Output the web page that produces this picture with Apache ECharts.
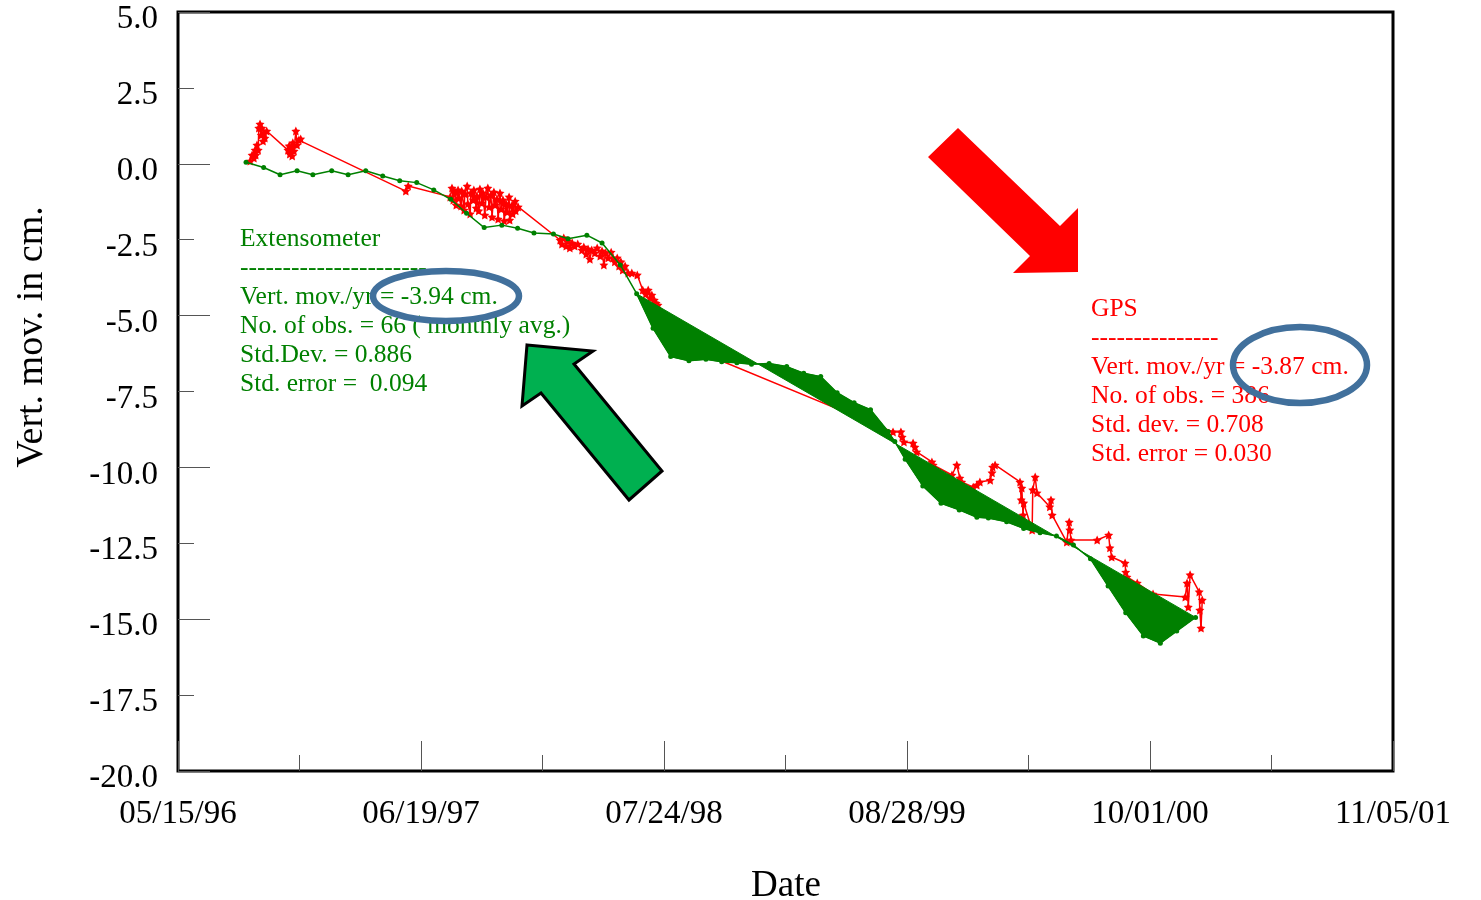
<!DOCTYPE html>
<html>
<head>
<meta charset="utf-8">
<script src="https://cdn.jsdelivr.net/npm/echarts@6/dist/echarts.min.js"></script>
<style>
html,body{margin:0;padding:0;background:#fff;}
#chart{width:1481px;height:900px;}
</style>
</head>
<body>
<div id="chart"></div>
<script>
// x values: days since 05/15/96
var startDate = Date.UTC(1996, 4, 15);
var xTickDays = [0, 400, 800, 1200, 1600, 2000];
var yTicks = [5.0, 2.5, 0.0, -2.5, -5.0, -7.5, -10.0, -12.5, -15.0, -17.5, -20.0];

// Extensometer (monthly averages)
var extDays = [112,141,168,196,222,253,280,309,337,365,393,421,449,475,504,533,559,586,618,642,673,698,728,755,782,811,841,869,895,920,944,973,1002,1030,1058,1085,1113,1140,1169,1180,1197,1226,1256,1286,1315,1334,1364,1392,1419,1446,1474,1502,1531,1560,1589,1617,1644,1675];
var extVert = [0.05,-0.12,-0.36,-0.23,-0.36,-0.23,-0.36,-0.23,-0.40,-0.56,-0.62,-0.86,-1.17,-1.63,-2.10,-2.02,-2.12,-2.28,-2.31,-2.47,-2.35,-2.61,-3.33,-4.28,-5.42,-6.35,-6.49,-6.44,-6.52,-6.55,-6.60,-6.58,-6.68,-6.90,-7.01,-7.54,-7.87,-8.10,-8.82,-9.15,-9.73,-10.61,-11.18,-11.40,-11.64,-11.67,-11.79,-12.01,-12.15,-12.26,-12.56,-13.01,-13.91,-14.79,-15.55,-15.79,-15.39,-14.94];
var extFillStart = 23; // index where the filled extensometer polygon begins

// GPS
var gpsDays = [119,122,125,127,128,130,132,133,135,137,138,140,142,143,146,181,183,184,186,188,189,191,194,196,199,202,375,379,448,
451,453,456,458,461,463,466,467,471,472,476,477,481,482,486,487,491,492,495,497,500,502,505,507,510,512,515,517,520,522,525,527,530,532,535,537,540,542,545,546,550,551,555,556,560,
629,632,635,639,642,645,649,653,658,665,668,672,675,678,681,686,690,695,698,701,704,708,713,716,719,723,726,729,732,736,741,747,756,765,770,774,777,780,784,787,790,
859,
1177,1190,1192,1195,1210,1213,1216,1241,1243,1274,1282,1287,1290,1309,1315,1320,1337,1340,1341,1345,1386,1388,1389,1391,1392,1406,1407,1411,1414,1435,1437,1439,1463,1467,1468,1470,1513,1532,1534,1537,1559,1560,1562,1579,1605,1658,1661,1663,1666,1681,1682,1684,1686];
var gpsVert = [0.09,0.29,0.19,0.45,0.29,0.62,0.45,1.18,1.31,0.95,1.18,0.75,1.01,0.85,1.08,0.45,0.59,0.32,0.52,0.26,0.69,0.42,1.08,0.62,0.78,0.82,-0.90,-0.73,-1.09,
-0.80,-1.19,-0.93,-1.36,-0.86,-1.13,-1.39,-0.90,-1.52,-0.99,-0.73,-1.32,-1.65,-0.96,-1.19,-0.86,-1.46,-1.06,-1.55,-0.83,-1.29,-0.96,-1.69,-1.09,-0.80,-1.42,-1.03,-1.75,-0.93,-1.36,-1.16,-1.82,-0.96,-1.49,-1.19,-1.88,-1.32,-1.59,-1.09,-1.85,-1.36,-1.65,-1.23,-1.55,-1.42,
-2.51,-2.64,-2.44,-2.71,-2.54,-2.77,-2.61,-2.71,-2.64,-2.84,-2.74,-2.97,-2.81,-3.14,-2.84,-2.94,-2.77,-3.04,-2.87,-3.33,-2.94,-3.10,-2.91,-3.10,-3.23,-3.10,-3.37,-3.23,-3.50,-3.37,-3.60,-3.60,-3.66,-4.16,-4.29,-4.16,-4.42,-4.32,-4.49,-4.59,-4.65,
-6.20,
-8.83,-8.83,-9.00,-9.16,-9.20,-9.33,-9.49,-9.82,-9.92,-10.25,-9.92,-10.35,-10.48,-10.65,-10.58,-10.48,-10.42,-10.18,-9.99,-9.92,-10.48,-11.07,-10.68,-11.57,-11.17,-12.06,-10.74,-10.32,-10.84,-11.30,-11.07,-11.57,-12.46,-11.80,-12.06,-12.39,-12.39,-12.23,-12.65,-12.95,-13.15,-13.45,-13.61,-13.81,-14.17,-14.27,-13.81,-14.60,-13.54,-14.10,-14.70,-15.29,-14.37];

var extText = ['Extensometer','----------------------','Vert. mov./yr = -3.94 cm.','No. of obs. = 66 ( monthly avg.)','Std.Dev. = 0.886','Std. error =  0.094'];
var gpsText = ['GPS','---------------','Vert. mov./yr = -3.87 cm.','No. of obs. = 386','Std. dev. = 0.708','Std. error = 0.030'];

function fmtDay(d){
  var t = new Date(startDate + d*86400000);
  function p(n){return (n<10?'0':'')+n;}
  return p(t.getUTCMonth()+1)+'/'+p(t.getUTCDate())+'/'+p(t.getUTCFullYear()%100);
}
function zip(a,b){return a.map(function(v,i){return [v,b[i]];});}

var FONT = 'Liberation Serif';
var star = 'path://M0,-10 L2.9,-4 L9.5,-3.1 L4.8,1.5 L5.9,8.1 L0,5 L-5.9,8.1 L-4.8,1.5 L-9.5,-3.1 L-2.9,-4 Z';

var graphics = [];
extText.forEach(function(s,i){
  graphics.push({type:'text', x:240, y:239+i*29, z:10, style:{text:s, fill:'#008000', font:'25.5px "'+FONT+'"', textVerticalAlign:'middle', verticalAlign:'middle'}});
});
gpsText.forEach(function(s,i){
  graphics.push({type:'text', x:1091, y:309+i*29, z:10, style:{text:s, fill:'#ff0000', font:'25.5px "'+FONT+'"', textVerticalAlign:'middle', verticalAlign:'middle'}});
});
graphics.push({type:'ellipse', z:20, shape:{cx:446, cy:296, rx:73, ry:25}, style:{fill:'none', stroke:'#41709c', lineWidth:6.5}});
graphics.push({type:'ellipse', z:20, shape:{cx:1300, cy:365, rx:67, ry:38}, style:{fill:'none', stroke:'#41709c', lineWidth:6.5}});
graphics.push({type:'polygon', z:15, shape:{points:[[958,128],[1060,226],[1078,208],[1078,272],[1013,273],[1030,256],[928,157]]}, style:{fill:'#ff0000'}});
graphics.push({type:'polygon', z:15, shape:{points:[[527,345],[593,351],[574,364],[662,471],[629,500],[541,393],[522,406]]}, style:{fill:'#00b050', stroke:'#000', lineWidth:3, lineJoin:'miter'}});
graphics.push({type:'text', x:32, y:337, rotation:Math.PI/2, z:10, style:{text:'Vert. mov. in cm.', fill:'#000', font:'38px "'+FONT+'"', textAlign:'center', textVerticalAlign:'middle', align:'center', verticalAlign:'middle'}});
graphics.push({type:'text', x:786, y:886, z:10, style:{text:'Date', fill:'#000', font:'37px "'+FONT+'"', textAlign:'center', textVerticalAlign:'middle', align:'center', verticalAlign:'middle'}});

var chart = echarts.init(document.getElementById('chart'));
chart.setOption({
  animation:false,
  backgroundColor:'#fff',
  grid:{left:178, top:12, right:88, bottom:129, show:true, borderColor:'#000', borderWidth:3, backgroundColor:'transparent'},
  xAxis:{
    type:'value', min:xTickDays[0], max:xTickDays[xTickDays.length-1], interval:400,
    axisLine:{show:false, onZero:false},
    axisTick:{show:true, inside:true, length:30, lineStyle:{color:'#555', width:1}},
    minorTick:{show:true, splitNumber:2, length:16, lineStyle:{color:'#555', width:1}},
    splitLine:{show:false},
    axisLabel:{formatter:fmtDay, fontFamily:FONT, fontSize:33, color:'#000', margin:27, showMinLabel:true, showMaxLabel:true}
  },
  yAxis:[{
    type:'value', min:yTicks[yTicks.length-1], max:yTicks[0], interval:2.5,
    axisLine:{show:false, onZero:false},
    axisTick:{show:true, inside:true, length:16, lineStyle:{color:'#555', width:1}},
    splitLine:{show:false},
    axisLabel:{formatter:function(v){return v.toFixed(1);}, fontFamily:FONT, fontSize:33, color:'#000', margin:20, verticalAlign:'top', lineHeight:15}
  },{
    type:'value', position:'left', min:yTicks[yTicks.length-1], max:yTicks[0], interval:5,
    axisLine:{show:false, onZero:false},
    axisTick:{show:true, inside:true, length:32, lineStyle:{color:'#555', width:1}},
    splitLine:{show:false},
    axisLabel:{show:false}
  }],
  series:[{
    name:'GPS', type:'line', data:zip(gpsDays,gpsVert), z:2,
    symbol:star, symbolSize:9, showAllSymbol:true,
    lineStyle:{color:'#ff0000', width:1.5}, itemStyle:{color:'#ff0000'}
  },{
    name:'ExtFill', type:'custom', z:3, silent:true,
    data:[[extDays[extFillStart], extVert[extFillStart]]],
    encode:{x:0, y:1},
    renderItem:function(params, api){
      var pts = [];
      for (var i=extFillStart;i<extDays.length;i++) pts.push(api.coord([extDays[i], extVert[i]]));
      return {type:'polygon', shape:{points:pts}, style:{fill:'#008000', stroke:'#008000', lineWidth:1}};
    }
  },{
    name:'Extensometer', type:'line', data:zip(extDays,extVert), z:4,
    symbol:'circle', symbolSize:5, showAllSymbol:true,
    lineStyle:{color:'#008000', width:1.5}, itemStyle:{color:'#008000'}
  }],
  graphic:graphics
});
</script>
</body>
</html>
